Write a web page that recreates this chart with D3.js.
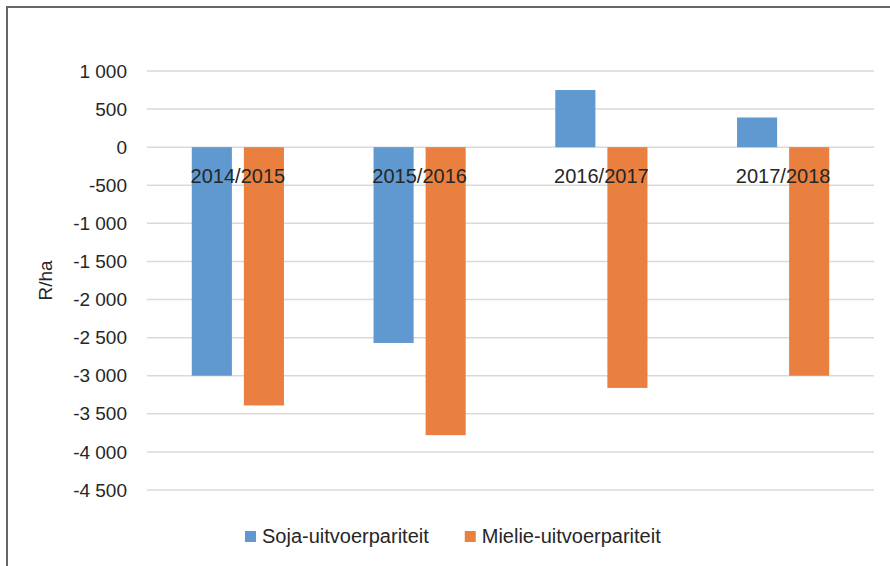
<!DOCTYPE html>
<html>
<head>
<meta charset="utf-8">
<script src="https://cdn.jsdelivr.net/npm/d3@7"></script>
<style>
  body { margin: 0; background: #fff; }
  text { font-family: "Liberation Sans", Arial, sans-serif; fill: #262626; }
</style>
</head>
<body>
<div id="chart"></div>
<script>
  // data
  const seasons = ["2014/2015", "2015/2016", "2016/2017", "2017/2018"];
  const seriesNames = ["Soja-uitvoerpariteit", "Mielie-uitvoerpariteit"];
  const soja = [-3000, -2570, 750, 390];
  const mielie = [-3390, -3780, -3160, -3000];
  const yTicks = [1000, 500, 0, -500, -1000, -1500, -2000, -2500, -3000, -3500, -4000, -4500];
  const colors = ["#5f99d0", "#e9803f"];

  const width = 890, height = 566;
  const margin = {top: 71, right: 16, bottom: 76, left: 147};

  const svg = d3.select("#chart")
    .append("svg")
    .attr("width", width)
    .attr("height", height);

  // frame (left + top only)
  svg.append("path")
    .attr("d", `M7,${height} L7,7 L${width},7`)
    .attr("fill", "none")
    .attr("stroke", "#666")
    .attr("stroke-width", 2);

  const y = d3.scaleLinear()
    .domain([-4500, 1000])
    .range([height - margin.bottom, margin.top]);

  const x = d3.scaleBand()
    .domain(seasons)
    .range([margin.left, width - margin.right]);

  const xSub = d3.scaleBand()
    .domain(seriesNames)
    .range([0, x.bandwidth()])
    .paddingInner(0.23)
    .paddingOuter(0.86);

  // gridlines
  svg.append("g")
    .selectAll("line")
    .data(yTicks)
    .join("line")
    .attr("x1", margin.left)
    .attr("x2", width - margin.right)
    .attr("y1", d => y(d))
    .attr("y2", d => y(d))
    .attr("stroke", "#d9d9d9")
    .attr("stroke-width", 1.5);

  // y tick labels: space as thousands separator, plain hyphen for minus
  const fmt = d => d3.format(",")(Math.abs(d)).replace(/,/g, " ");
  svg.append("g")
    .selectAll("text")
    .data(yTicks)
    .join("text")
    .attr("x", 127)
    .attr("y", d => y(d))
    .attr("dy", "0.35em")
    .attr("text-anchor", "end")
    .style("font-size", "19px")
    .text(d => (d < 0 ? "-" : "") + fmt(d));

  // axis title
  svg.append("text")
    .attr("transform", `translate(52, ${(y(1000) + y(-4500)) / 2}) rotate(-90)`)
    .attr("text-anchor", "middle")
    .style("font-size", "19px")
    .text("R/ha");

  // bars
  const rows = seasons.map((s, i) => ({season: s, values: [soja[i], mielie[i]]}));
  const groups = svg.append("g")
    .selectAll("g")
    .data(rows)
    .join("g")
    .attr("transform", d => `translate(${x(d.season)},0)`);

  groups.selectAll("rect")
    .data(d => d.values.map((v, j) => ({name: seriesNames[j], value: v, j: j})))
    .join("rect")
    .attr("x", d => xSub(d.name))
    .attr("width", xSub.bandwidth())
    .attr("y", d => y(Math.max(0, d.value)))
    .attr("height", d => Math.abs(y(d.value) - y(0)))
    .attr("fill", d => colors[d.j]);

  // category labels sit just below the zero line
  svg.append("g")
    .selectAll("text")
    .data(seasons)
    .join("text")
    .attr("x", d => x(d) + x.bandwidth() / 2)
    .attr("y", y(0) + 36)
    .attr("text-anchor", "middle")
    .style("font-size", "20px")
    .text(d => d);

  // legend
  const legend = svg.append("g");
  let lx = 245;
  seriesNames.forEach((name, j) => {
    legend.append("rect")
      .attr("x", lx)
      .attr("y", 531)
      .attr("width", 11)
      .attr("height", 11)
      .attr("fill", colors[j]);
    const t = legend.append("text")
      .attr("x", lx + 17)
      .attr("y", 543)
      .style("font-size", "20px")
      .text(name);
    lx += 17 + t.node().getComputedTextLength() + 36;
  });
</script>
</body>
</html>
